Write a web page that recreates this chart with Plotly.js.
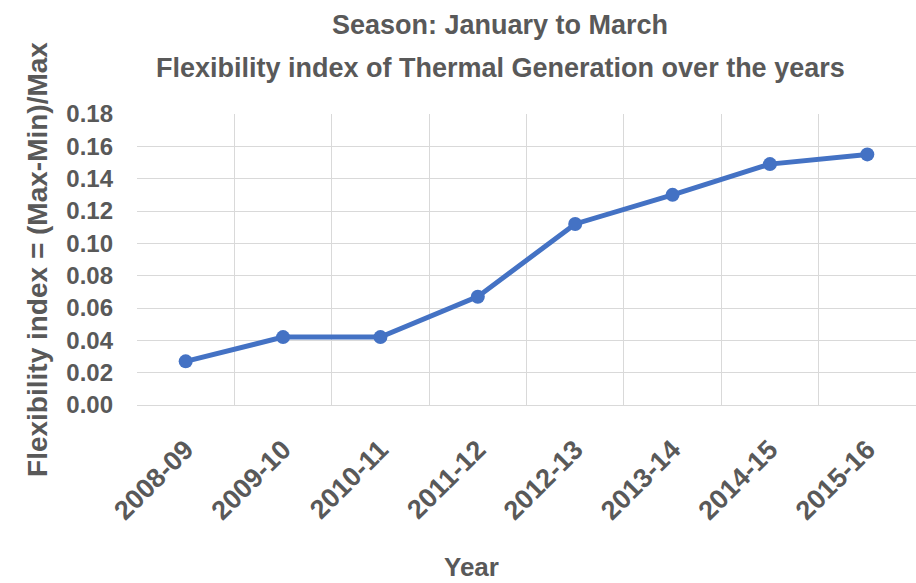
<!DOCTYPE html>
<html>
<head>
<meta charset="utf-8">
<script src="https://cdn.plot.ly/plotly-3.0.1.min.js"></script>
<style>
  html, body { margin: 0; padding: 0; background: #ffffff; }
  #chart { width: 916px; height: 583px; }
</style>
</head>
<body>
<div id="chart"></div>
<script>
// Seasonal flexibility index of thermal generation (January to March)
const years = ["2008-09", "2009-10", "2010-11", "2011-12", "2012-13", "2013-14", "2014-15", "2015-16"];
const flexibilityIndex = [0.027, 0.042, 0.042, 0.067, 0.112, 0.130, 0.149, 0.155];
const yTicks = [0.00, 0.02, 0.04, 0.06, 0.08, 0.10, 0.12, 0.14, 0.16, 0.18];

const FONT = '"Liberation Sans", Arial, sans-serif';
const GREY = '#595959';
const BLUE = '#4472C4';

const trace = {
  x: years,
  y: flexibilityIndex,
  type: 'scatter',
  mode: 'lines+markers',
  line: { color: BLUE, width: 5 },
  marker: { color: BLUE, size: 14, symbol: 'circle' },
  cliponaxis: false,
  hoverinfo: 'x+y'
};

const layout = {
  width: 916,
  height: 583,
  margin: { l: 137, r: 0, t: 114, b: 178, pad: 0 },
  paper_bgcolor: '#ffffff',
  plot_bgcolor: '#ffffff',
  showlegend: false,
  font: { family: FONT, color: GREY, size: 24, weight: 'bold' },
  title: {
    text: 'Season: January to March',
    font: { family: FONT, color: GREY, size: 27, weight: 'bold' },
    x: (500 - 137) / 779, xref: 'paper', xanchor: 'center',
    y: 1 - 25 / 583, yref: 'container', yanchor: 'middle'
  },
  annotations: [
    {
      text: 'Flexibility index of Thermal Generation over the years',
      xref: 'paper', yref: 'paper',
      x: (500 - 137) / 779, y: 1 + (114 - 68) / 291,
      xanchor: 'center', yanchor: 'middle',
      showarrow: false,
      font: { family: FONT, color: GREY, size: 27, weight: 'bold' }
    },
    {
      text: 'Year',
      xref: 'paper', yref: 'paper',
      x: (471 - 137) / 779, y: -(567 - 405) / 291,
      xanchor: 'center', yanchor: 'middle',
      showarrow: false,
      font: { family: FONT, color: GREY, size: 26, weight: 'bold' }
    }
  ],
  xaxis: {
    type: 'category',
    range: [-0.5, years.length - 0.5],
    tickson: 'boundaries',
    showgrid: true,
    gridcolor: '#d9d9d9',
    gridwidth: 1,
    showline: true,
    linecolor: '#d9d9d9',
    linewidth: 1,
    ticks: '',
    tickangle: -45,
    ticklabelstandoff: 17,
    tickfont: { family: FONT, color: GREY, size: 27, weight: 'bold' },
    fixedrange: true
  },
  yaxis: {
    range: [0, 0.18],
    tickvals: yTicks,
    ticktext: yTicks.map(v => v.toFixed(2)),
    showgrid: true,
    gridcolor: '#d9d9d9',
    gridwidth: 1,
    zeroline: false,
    showline: false,
    ticks: '',
    ticklabelstandoff: 23,
    tickfont: { family: FONT, color: GREY, size: 24, weight: 'bold' },
    title: {
      text: 'Flexibility index = (Max-Min)/Max',
      font: { family: FONT, color: GREY, size: 28, weight: 'bold' },
      standoff: 10
    },
    automargin: false,
    fixedrange: true
  }
};

Plotly.newPlot('chart', [trace], layout, { displayModeBar: false, staticPlot: true });
</script>
</body>
</html>
